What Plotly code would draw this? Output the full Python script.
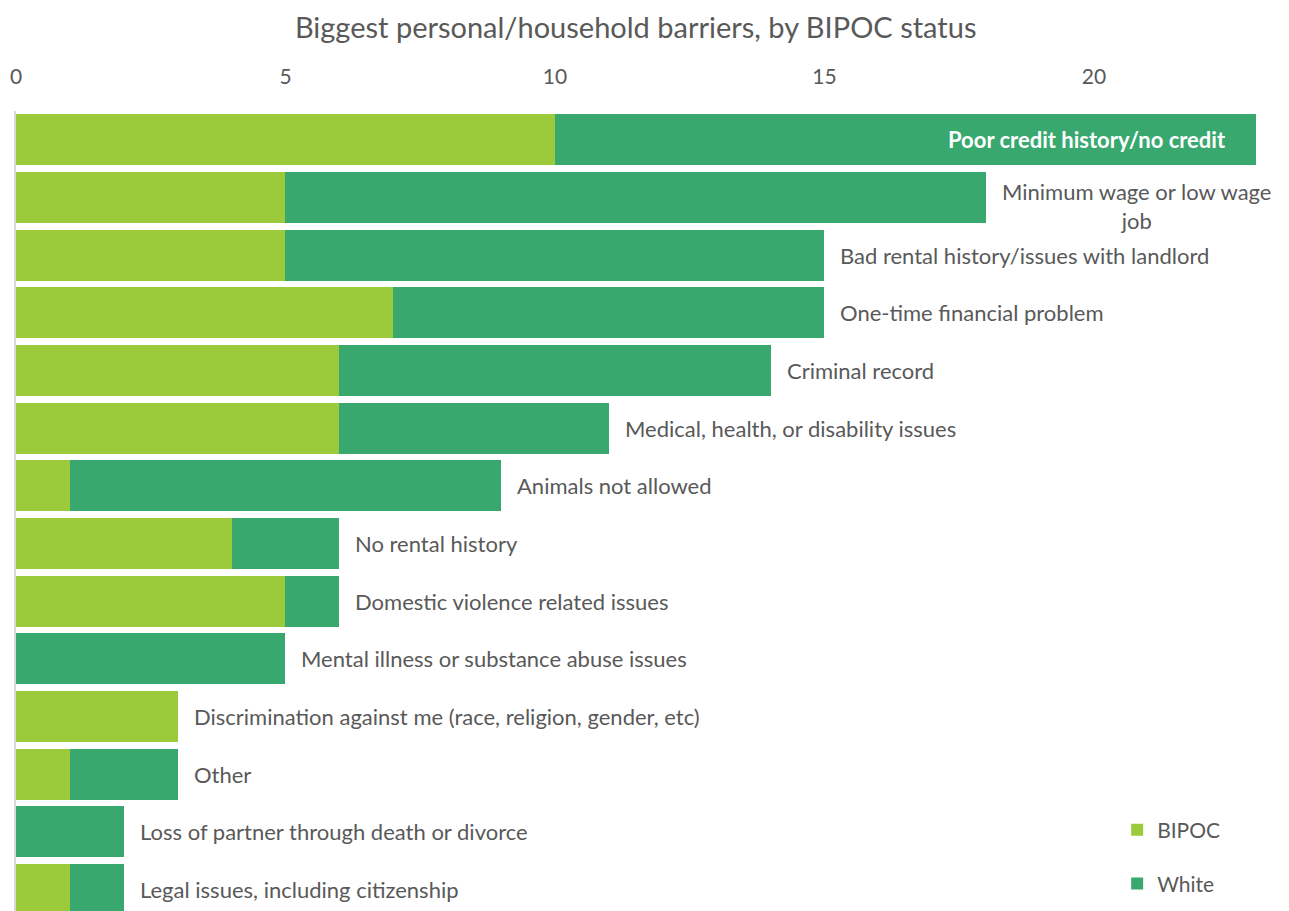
import plotly.graph_objects as go

categories = [
    "Poor credit history/no credit",
    "Minimum wage or low wage<br>job",
    "Bad rental history/issues with landlord",
    "One-time financial problem",
    "Criminal record",
    "Medical, health, or disability issues",
    "Animals not allowed",
    "No rental history",
    "Domestic violence related issues",
    "Mental illness or substance abuse issues",
    "Discrimination against me (race, religion, gender, etc)",
    "Other",
    "Loss of partner through death or divorce",
    "Legal issues, including citizenship",
]
bipoc = [10, 5, 5, 7, 6, 6, 1, 4, 5, 0, 3, 1, 0, 1]
white = [13, 13, 10, 8, 8, 5, 8, 2, 1, 5, 0, 2, 2, 1]
tick_vals = [0, 5, 10, 15, 20]

C_BIPOC = "#9BCB3B"
C_WHITE = "#38A86F"
GREY = "#595959"
FONT = "Lato, 'Open Sans', sans-serif"

totals = [b + w for b, w in zip(bipoc, white)]

fig = go.Figure()
fig.add_trace(go.Bar(y=categories, x=bipoc, name="BIPOC", orientation="h", showlegend=True,
                     marker=dict(color=C_BIPOC, line=dict(width=0)), legend="legend"))
fig.add_trace(go.Bar(y=categories, x=white, name="White", orientation="h", showlegend=True,
                     marker=dict(color=C_WHITE, line=dict(width=0)), legend="legend2"))

annotations = []
for i, (cat, tot) in enumerate(zip(categories, totals)):
    if i == 0:
        annotations.append(dict(x=tot, y=cat, xref="x", yref="y", text="<b>" + cat + "</b>",
                                showarrow=False, xanchor="right", xshift=-28,
                                font=dict(family=FONT, size=22, color="white")))
    else:
        annotations.append(dict(x=tot, y=cat, xref="x", yref="y", text=cat,
                                showarrow=False, xanchor="left", xshift=14, align="center",
                                yshift=(-8 if "<br>" in cat else 0),
                                font=dict(family=FONT, size=22, color=GREY)))

fig.update_layout(
    width=1281, height=903,
    margin=dict(l=8, r=0, t=103, b=0),
    paper_bgcolor="white", plot_bgcolor="white",
    barmode="stack", bargap=0.116, showlegend=True,
    title=dict(text="Biggest personal/household barriers, by BIPOC status",
               x=0.49, xanchor="center", y=0.978, yanchor="middle",
               font=dict(family=FONT, size=29, color=GREY)),
    font=dict(family=FONT, color=GREY),
    xaxis=dict(side="top", range=[0, 23.62], tickvals=tick_vals, showgrid=False,
               zeroline=False, showline=False, ticks="", ticklabelstandoff=22,
               tickfont=dict(family=FONT, size=21, color=GREY)),
    yaxis=dict(autorange=False, range=[13.37, -0.5], showticklabels=False, ticks="",
               showgrid=False, zeroline=False, showline=True, linecolor="#D9D9D9",
               linewidth=2, type="category"),
    legend=dict(x=0.865, y=0.101, xanchor="left", yanchor="middle",
                font=dict(family=FONT, size=21, color=GREY), bgcolor="rgba(0,0,0,0)"),
    legend2=dict(x=0.865, y=0.034, xanchor="left", yanchor="middle",
                 font=dict(family=FONT, size=21, color=GREY), bgcolor="rgba(0,0,0,0)"),
    annotations=annotations,
)

fig.write_html("out.html")
